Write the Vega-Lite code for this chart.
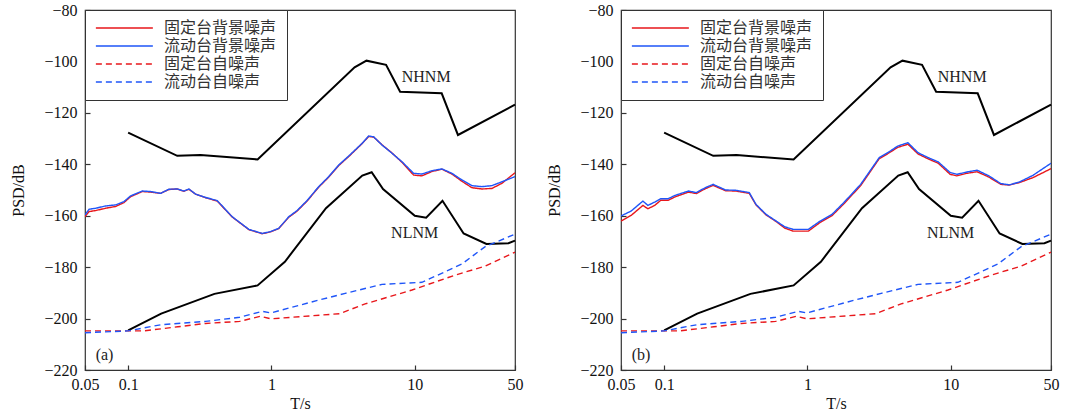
{
  "$schema": "https://vega.github.io/schema/vega-lite/v6.json",
  "padding": {"left": 10, "top": 1, "right": 0, "bottom": 0},
  "spacing": 22,
  "datasets": {
    "noise": [
      {"panel": "a", "series": "固定台背景噪声", "T": 0.05, "psd": -160.4},
      {"panel": "a", "series": "固定台背景噪声", "T": 0.0533, "psd": -158.4},
      {"panel": "a", "series": "固定台背景噪声", "T": 0.0593, "psd": -158.0},
      {"panel": "a", "series": "固定台背景噪声", "T": 0.0696, "psd": -157.1},
      {"panel": "a", "series": "固定台背景噪声", "T": 0.0818, "psd": -156.4},
      {"panel": "a", "series": "固定台背景噪声", "T": 0.0935, "psd": -154.9},
      {"panel": "a", "series": "固定台背景噪声", "T": 0.104, "psd": -152.6},
      {"panel": "a", "series": "固定台背景噪声", "T": 0.1254, "psd": -150.6},
      {"panel": "a", "series": "固定台背景噪声", "T": 0.1434, "psd": -150.8},
      {"panel": "a", "series": "固定台背景噪声", "T": 0.1684, "psd": -151.3},
      {"panel": "a", "series": "固定台背景噪声", "T": 0.1924, "psd": -149.8},
      {"panel": "a", "series": "固定台背景噪声", "T": 0.22, "psd": -149.6},
      {"panel": "a", "series": "固定台背景噪声", "T": 0.2448, "psd": -150.5},
      {"panel": "a", "series": "固定台背景噪声", "T": 0.2653, "psd": -149.7},
      {"panel": "a", "series": "固定台背景噪声", "T": 0.2952, "psd": -151.6},
      {"panel": "a", "series": "固定台背景噪声", "T": 0.3467, "psd": -153.0},
      {"panel": "a", "series": "固定台背景噪声", "T": 0.418, "psd": -154.3},
      {"panel": "a", "series": "固定台背景噪声", "T": 0.532, "psd": -160.5},
      {"panel": "a", "series": "固定台背景噪声", "T": 0.695, "psd": -165.4},
      {"panel": "a", "series": "固定台背景噪声", "T": 0.861, "psd": -167.0},
      {"panel": "a", "series": "固定台背景噪声", "T": 0.983, "psd": -166.3},
      {"panel": "a", "series": "固定台背景噪声", "T": 1.124, "psd": -165.0},
      {"panel": "a", "series": "固定台背景噪声", "T": 1.32, "psd": -160.6},
      {"panel": "a", "series": "固定台背景噪声", "T": 1.509, "psd": -158.2},
      {"panel": "a", "series": "固定台背景噪声", "T": 1.772, "psd": -154.3},
      {"panel": "a", "series": "固定台背景噪声", "T": 2.136, "psd": -148.9},
      {"panel": "a", "series": "固定台背景噪声", "T": 2.508, "psd": -145.0},
      {"panel": "a", "series": "固定台背景噪声", "T": 2.944, "psd": -140.5},
      {"panel": "a", "series": "固定台背景噪声", "T": 3.457, "psd": -137.0},
      {"panel": "a", "series": "固定台背景噪声", "T": 4.28, "psd": -132.0},
      {"panel": "a", "series": "固定台背景噪声", "T": 4.76, "psd": -129.2},
      {"panel": "a", "series": "固定台背景噪声", "T": 5.16, "psd": -129.4},
      {"panel": "a", "series": "固定台背景噪声", "T": 5.9, "psd": -132.4},
      {"panel": "a", "series": "固定台背景噪声", "T": 6.93, "psd": -135.6},
      {"panel": "a", "series": "固定台背景噪声", "T": 8.13, "psd": -139.2},
      {"panel": "a", "series": "固定台背景噪声", "T": 9.81, "psd": -144.2},
      {"panel": "a", "series": "固定台背景噪声", "T": 11.21, "psd": -144.5},
      {"panel": "a", "series": "固定台背景噪声", "T": 13.17, "psd": -142.8},
      {"panel": "a", "series": "固定台背景噪声", "T": 15.46, "psd": -141.9},
      {"panel": "a", "series": "固定台背景噪声", "T": 18.14, "psd": -143.8},
      {"panel": "a", "series": "固定台背景噪声", "T": 21.3, "psd": -146.6},
      {"panel": "a", "series": "固定台背景噪声", "T": 25.0, "psd": -149.1},
      {"panel": "a", "series": "固定台背景噪声", "T": 29.4, "psd": -149.6},
      {"panel": "a", "series": "固定台背景噪声", "T": 34.5, "psd": -149.4},
      {"panel": "a", "series": "固定台背景噪声", "T": 40.5, "psd": -147.4},
      {"panel": "a", "series": "固定台背景噪声", "T": 50, "psd": -143.3},

      {"panel": "a", "series": "流动台背景噪声", "T": 0.05, "psd": -159.7},
      {"panel": "a", "series": "流动台背景噪声", "T": 0.0533, "psd": -157.5},
      {"panel": "a", "series": "流动台背景噪声", "T": 0.0593, "psd": -157.1},
      {"panel": "a", "series": "流动台背景噪声", "T": 0.0696, "psd": -156.2},
      {"panel": "a", "series": "流动台背景噪声", "T": 0.0818, "psd": -155.8},
      {"panel": "a", "series": "流动台背景噪声", "T": 0.0935, "psd": -154.5},
      {"panel": "a", "series": "流动台背景噪声", "T": 0.104, "psd": -152.3},
      {"panel": "a", "series": "流动台背景噪声", "T": 0.1254, "psd": -150.4},
      {"panel": "a", "series": "流动台背景噪声", "T": 0.1434, "psd": -150.6},
      {"panel": "a", "series": "流动台背景噪声", "T": 0.1684, "psd": -151.3},
      {"panel": "a", "series": "流动台背景噪声", "T": 0.1924, "psd": -149.7},
      {"panel": "a", "series": "流动台背景噪声", "T": 0.22, "psd": -149.6},
      {"panel": "a", "series": "流动台背景噪声", "T": 0.2448, "psd": -150.4},
      {"panel": "a", "series": "流动台背景噪声", "T": 0.2653, "psd": -149.6},
      {"panel": "a", "series": "流动台背景噪声", "T": 0.2952, "psd": -151.6},
      {"panel": "a", "series": "流动台背景噪声", "T": 0.3467, "psd": -152.9},
      {"panel": "a", "series": "流动台背景噪声", "T": 0.418, "psd": -154.1},
      {"panel": "a", "series": "流动台背景噪声", "T": 0.532, "psd": -160.4},
      {"panel": "a", "series": "流动台背景噪声", "T": 0.695, "psd": -165.3},
      {"panel": "a", "series": "流动台背景噪声", "T": 0.861, "psd": -166.9},
      {"panel": "a", "series": "流动台背景噪声", "T": 0.983, "psd": -166.2},
      {"panel": "a", "series": "流动台背景噪声", "T": 1.124, "psd": -164.9},
      {"panel": "a", "series": "流动台背景噪声", "T": 1.32, "psd": -160.4},
      {"panel": "a", "series": "流动台背景噪声", "T": 1.509, "psd": -158.0},
      {"panel": "a", "series": "流动台背景噪声", "T": 1.772, "psd": -154.1},
      {"panel": "a", "series": "流动台背景噪声", "T": 2.136, "psd": -148.7},
      {"panel": "a", "series": "流动台背景噪声", "T": 2.508, "psd": -144.8},
      {"panel": "a", "series": "流动台背景噪声", "T": 2.944, "psd": -140.3},
      {"panel": "a", "series": "流动台背景噪声", "T": 3.457, "psd": -136.8},
      {"panel": "a", "series": "流动台背景噪声", "T": 4.28, "psd": -131.9},
      {"panel": "a", "series": "流动台背景噪声", "T": 4.76, "psd": -129.0},
      {"panel": "a", "series": "流动台背景噪声", "T": 5.16, "psd": -129.3},
      {"panel": "a", "series": "流动台背景噪声", "T": 5.9, "psd": -132.5},
      {"panel": "a", "series": "流动台背景噪声", "T": 6.93, "psd": -135.7},
      {"panel": "a", "series": "流动台背景噪声", "T": 8.13, "psd": -139.0},
      {"panel": "a", "series": "流动台背景噪声", "T": 9.81, "psd": -143.5},
      {"panel": "a", "series": "流动台背景噪声", "T": 11.21, "psd": -143.8},
      {"panel": "a", "series": "流动台背景噪声", "T": 13.17, "psd": -142.5},
      {"panel": "a", "series": "流动台背景噪声", "T": 15.46, "psd": -141.8},
      {"panel": "a", "series": "流动台背景噪声", "T": 18.14, "psd": -143.5},
      {"panel": "a", "series": "流动台背景噪声", "T": 21.3, "psd": -146.1},
      {"panel": "a", "series": "流动台背景噪声", "T": 25.0, "psd": -148.3},
      {"panel": "a", "series": "流动台背景噪声", "T": 29.4, "psd": -148.7},
      {"panel": "a", "series": "流动台背景噪声", "T": 34.5, "psd": -148.3},
      {"panel": "a", "series": "流动台背景噪声", "T": 40.5, "psd": -146.8},
      {"panel": "a", "series": "流动台背景噪声", "T": 50, "psd": -144.8},

      {"panel": "b", "series": "固定台背景噪声", "T": 0.05, "psd": -162.1},
      {"panel": "b", "series": "固定台背景噪声", "T": 0.0588, "psd": -159.9},
      {"panel": "b", "series": "固定台背景噪声", "T": 0.0711, "psd": -156.0},
      {"panel": "b", "series": "固定台背景噪声", "T": 0.077, "psd": -157.3},
      {"panel": "b", "series": "固定台背景噪声", "T": 0.0859, "psd": -156.0},
      {"panel": "b", "series": "固定台背景噪声", "T": 0.0947, "psd": -154.0},
      {"panel": "b", "series": "固定台背景噪声", "T": 0.1067, "psd": -154.0},
      {"panel": "b", "series": "固定台背景噪声", "T": 0.119, "psd": -152.7},
      {"panel": "b", "series": "固定台背景噪声", "T": 0.1478, "psd": -150.8},
      {"panel": "b", "series": "固定台背景噪声", "T": 0.1674, "psd": -151.4},
      {"panel": "b", "series": "固定台背景噪声", "T": 0.1938, "psd": -149.5},
      {"panel": "b", "series": "固定台背景噪声", "T": 0.2196, "psd": -148.2},
      {"panel": "b", "series": "固定台背景噪声", "T": 0.2684, "psd": -150.3},
      {"panel": "b", "series": "固定台背景噪声", "T": 0.3157, "psd": -150.4},
      {"panel": "b", "series": "固定台背景噪声", "T": 0.3925, "psd": -151.3},
      {"panel": "b", "series": "固定台背景噪声", "T": 0.4374, "psd": -155.8},
      {"panel": "b", "series": "固定台背景噪声", "T": 0.5144, "psd": -159.7},
      {"panel": "b", "series": "固定台背景噪声", "T": 0.6055, "psd": -162.3},
      {"panel": "b", "series": "固定台背景噪声", "T": 0.6934, "psd": -164.8},
      {"panel": "b", "series": "固定台背景噪声", "T": 0.794, "psd": -166.0},
      {"panel": "b", "series": "固定台背景噪声", "T": 1.014, "psd": -166.0},
      {"panel": "b", "series": "固定台背景噪声", "T": 1.225, "psd": -162.6},
      {"panel": "b", "series": "固定台背景噪声", "T": 1.482, "psd": -160.0},
      {"panel": "b", "series": "固定台背景噪声", "T": 1.792, "psd": -155.4},
      {"panel": "b", "series": "固定台背景噪声", "T": 2.35, "psd": -148.3},
      {"panel": "b", "series": "固定台背景噪声", "T": 3.167, "psd": -137.8},
      {"panel": "b", "series": "固定台背景噪声", "T": 3.626, "psd": -135.9},
      {"panel": "b", "series": "固定台背景噪声", "T": 4.267, "psd": -133.4},
      {"panel": "b", "series": "固定台背景噪声", "T": 5.02, "psd": -132.2},
      {"panel": "b", "series": "固定台背景噪声", "T": 5.91, "psd": -136.0},
      {"panel": "b", "series": "固定台背景噪声", "T": 6.95, "psd": -137.9},
      {"panel": "b", "series": "固定台背景噪声", "T": 8.18, "psd": -139.6},
      {"panel": "b", "series": "固定台背景噪声", "T": 9.89, "psd": -143.9},
      {"panel": "b", "series": "固定台背景噪声", "T": 11.02, "psd": -144.5},
      {"panel": "b", "series": "固定台背景噪声", "T": 12.98, "psd": -143.5},
      {"panel": "b", "series": "固定台背景噪声", "T": 15.26, "psd": -142.9},
      {"panel": "b", "series": "固定台背景噪声", "T": 18.45, "psd": -145.0},
      {"panel": "b", "series": "固定台背景噪声", "T": 22.3, "psd": -147.8},
      {"panel": "b", "series": "固定台背景噪声", "T": 25.6, "psd": -148.1},
      {"panel": "b", "series": "固定台背景噪声", "T": 30.1, "psd": -147.1},
      {"panel": "b", "series": "固定台背景噪声", "T": 37.4, "psd": -145.2},
      {"panel": "b", "series": "固定台背景噪声", "T": 50, "psd": -141.7},

      {"panel": "b", "series": "流动台背景噪声", "T": 0.05, "psd": -160.1},
      {"panel": "b", "series": "流动台背景噪声", "T": 0.0588, "psd": -158.2},
      {"panel": "b", "series": "流动台背景噪声", "T": 0.0711, "psd": -154.3},
      {"panel": "b", "series": "流动台背景噪声", "T": 0.077, "psd": -156.0},
      {"panel": "b", "series": "流动台背景噪声", "T": 0.0859, "psd": -154.7},
      {"panel": "b", "series": "流动台背景噪声", "T": 0.0947, "psd": -153.4},
      {"panel": "b", "series": "流动台背景噪声", "T": 0.1067, "psd": -153.4},
      {"panel": "b", "series": "流动台背景噪声", "T": 0.119, "psd": -152.1},
      {"panel": "b", "series": "流动台背景噪声", "T": 0.1478, "psd": -150.4},
      {"panel": "b", "series": "流动台背景噪声", "T": 0.1674, "psd": -151.0},
      {"panel": "b", "series": "流动台背景噪声", "T": 0.1938, "psd": -149.1},
      {"panel": "b", "series": "流动台背景噪声", "T": 0.2196, "psd": -147.8},
      {"panel": "b", "series": "流动台背景噪声", "T": 0.2684, "psd": -150.0},
      {"panel": "b", "series": "流动台背景噪声", "T": 0.3157, "psd": -150.1},
      {"panel": "b", "series": "流动台背景噪声", "T": 0.3925, "psd": -151.0},
      {"panel": "b", "series": "流动台背景噪声", "T": 0.4374, "psd": -155.6},
      {"panel": "b", "series": "流动台背景噪声", "T": 0.5144, "psd": -159.5},
      {"panel": "b", "series": "流动台背景噪声", "T": 0.6055, "psd": -162.1},
      {"panel": "b", "series": "流动台背景噪声", "T": 0.6934, "psd": -164.3},
      {"panel": "b", "series": "流动台背景噪声", "T": 0.794, "psd": -165.3},
      {"panel": "b", "series": "流动台背景噪声", "T": 1.014, "psd": -165.3},
      {"panel": "b", "series": "流动台背景噪声", "T": 1.225, "psd": -162.1},
      {"panel": "b", "series": "流动台背景噪声", "T": 1.482, "psd": -159.5},
      {"panel": "b", "series": "流动台背景噪声", "T": 1.792, "psd": -154.9},
      {"panel": "b", "series": "流动台背景噪声", "T": 2.35, "psd": -147.8},
      {"panel": "b", "series": "流动台背景噪声", "T": 3.167, "psd": -137.4},
      {"panel": "b", "series": "流动台背景噪声", "T": 3.626, "psd": -135.5},
      {"panel": "b", "series": "流动台背景噪声", "T": 4.267, "psd": -132.9},
      {"panel": "b", "series": "流动台背景噪声", "T": 5.02, "psd": -131.6},
      {"panel": "b", "series": "流动台背景噪声", "T": 5.91, "psd": -135.5},
      {"panel": "b", "series": "流动台背景噪声", "T": 6.95, "psd": -137.4},
      {"panel": "b", "series": "流动台背景噪声", "T": 8.18, "psd": -139.1},
      {"panel": "b", "series": "流动台背景噪声", "T": 9.89, "psd": -143.2},
      {"panel": "b", "series": "流动台背景噪声", "T": 11.02, "psd": -143.9},
      {"panel": "b", "series": "流动台背景噪声", "T": 12.98, "psd": -143.0},
      {"panel": "b", "series": "流动台背景噪声", "T": 15.26, "psd": -142.3},
      {"panel": "b", "series": "流动台背景噪声", "T": 18.45, "psd": -144.5},
      {"panel": "b", "series": "流动台背景噪声", "T": 22.3, "psd": -147.5},
      {"panel": "b", "series": "流动台背景噪声", "T": 25.6, "psd": -148.0},
      {"panel": "b", "series": "流动台背景噪声", "T": 30.1, "psd": -146.9},
      {"panel": "b", "series": "流动台背景噪声", "T": 37.4, "psd": -144.3},
      {"panel": "b", "series": "流动台背景噪声", "T": 50, "psd": -139.6},

      {"panel": "ab", "series": "固定台自噪声", "T": 0.05, "psd": -204.8},
      {"panel": "ab", "series": "固定台自噪声", "T": 0.128, "psd": -204.8},
      {"panel": "ab", "series": "固定台自噪声", "T": 0.222, "psd": -203.2},
      {"panel": "ab", "series": "固定台自噪声", "T": 0.346, "psd": -201.9},
      {"panel": "ab", "series": "固定台自噪声", "T": 0.6, "psd": -201.1},
      {"panel": "ab", "series": "固定台自噪声", "T": 0.837, "psd": -199.1},
      {"panel": "ab", "series": "固定台自噪声", "T": 0.99, "psd": -200.1},
      {"panel": "ab", "series": "固定台自噪声", "T": 2.99, "psd": -198.1},
      {"panel": "ab", "series": "固定台自噪声", "T": 4.5, "psd": -194.3},
      {"panel": "ab", "series": "固定台自噪声", "T": 9.55, "psd": -188.9},
      {"panel": "ab", "series": "固定台自噪声", "T": 19.1, "psd": -183.1},
      {"panel": "ab", "series": "固定台自噪声", "T": 31.0, "psd": -179.6},
      {"panel": "ab", "series": "固定台自噪声", "T": 50, "psd": -174.2},

      {"panel": "ab", "series": "流动台自噪声", "T": 0.05, "psd": -205.5},
      {"panel": "ab", "series": "流动台自噪声", "T": 0.1, "psd": -204.8},
      {"panel": "ab", "series": "流动台自噪声", "T": 0.169, "psd": -202.4},
      {"panel": "ab", "series": "流动台自噪声", "T": 0.346, "psd": -201.1},
      {"panel": "ab", "series": "流动台自噪声", "T": 0.6, "psd": -199.5},
      {"panel": "ab", "series": "流动台自噪声", "T": 0.861, "psd": -197.2},
      {"panel": "ab", "series": "流动台自噪声", "T": 0.99, "psd": -197.8},
      {"panel": "ab", "series": "流动台自噪声", "T": 2.14, "psd": -192.8},
      {"panel": "ab", "series": "流动台自噪声", "T": 3.27, "psd": -190.2},
      {"panel": "ab", "series": "流动台自噪声", "T": 5.9, "psd": -186.7},
      {"panel": "ab", "series": "流动台自噪声", "T": 11.2, "psd": -185.9},
      {"panel": "ab", "series": "流动台自噪声", "T": 21.3, "psd": -178.8},
      {"panel": "ab", "series": "流动台自噪声", "T": 31.0, "psd": -172.0},
      {"panel": "ab", "series": "流动台自噪声", "T": 50, "psd": -167.2}
    ],
    "model": [
      {"model": "NHNM", "T": 0.1, "psd": -127.7},
      {"model": "NHNM", "T": 0.22, "psd": -136.7},
      {"model": "NHNM", "T": 0.32, "psd": -136.4},
      {"model": "NHNM", "T": 0.8, "psd": -138.1},
      {"model": "NHNM", "T": 3.8, "psd": -102.3},
      {"model": "NHNM", "T": 4.6, "psd": -99.7},
      {"model": "NHNM", "T": 6.3, "psd": -101.3},
      {"model": "NHNM", "T": 7.9, "psd": -111.8},
      {"model": "NHNM", "T": 15.4, "psd": -112.4},
      {"model": "NHNM", "T": 20.0, "psd": -128.6},
      {"model": "NHNM", "T": 50, "psd": -116.8},
      {"model": "NLNM", "T": 0.1, "psd": -204.6},
      {"model": "NLNM", "T": 0.17, "psd": -198.1},
      {"model": "NLNM", "T": 0.4, "psd": -190.4},
      {"model": "NLNM", "T": 0.8, "psd": -187.1},
      {"model": "NLNM", "T": 1.24, "psd": -177.9},
      {"model": "NLNM", "T": 2.4, "psd": -157.1},
      {"model": "NLNM", "T": 4.3, "psd": -144.4},
      {"model": "NLNM", "T": 5.0, "psd": -143.1},
      {"model": "NLNM", "T": 6.0, "psd": -149.6},
      {"model": "NLNM", "T": 10.0, "psd": -160.0},
      {"model": "NLNM", "T": 12.0, "psd": -160.8},
      {"model": "NLNM", "T": 15.6, "psd": -154.2},
      {"model": "NLNM", "T": 21.9, "psd": -166.9},
      {"model": "NLNM", "T": 31.6, "psd": -171.0},
      {"model": "NLNM", "T": 45.0, "psd": -170.7},
      {"model": "NLNM", "T": 50, "psd": -169.7}
    ],
    "notes": [
      {"panel": "ab", "label": "NHNM", "T": 12.0, "psd": -105.9},
      {"panel": "ab", "label": "NLNM", "T": 9.97, "psd": -166.9},
      {"panel": "a", "label": "(a)", "T": 0.0684, "psd": -214.2},
      {"panel": "b", "label": "(b)", "T": 0.069, "psd": -214.2}
    ]
  },
  "config": {
    "font": "Times New Roman, Liberation Serif, serif",
    "view": {"stroke": "#333", "strokeWidth": 1.2},
    "axis": {
      "grid": false,
      "domain": false,
      "labelFont": "Times New Roman, Liberation Serif, serif",
      "labelFontSize": 16,
      "labelColor": "#111",
      "titleFont": "Times New Roman, Liberation Serif, serif",
      "titleFontSize": 16,
      "titleFontWeight": "normal",
      "titleColor": "#111",
      "tickSize": -5,
      "tickColor": "#333",
      "tickWidth": 1.2,
      "labelFlush": false,
      "labelOverlap": false,
      "labelPadding": 13
    },
    "legend": {
      "orient": "top-left",
      "offset": 0,
      "padding": 10,
      "strokeColor": "#333",
      "fillColor": "white",
      "labelFont": "Noto Sans CJK SC",
      "labelFontSize": 16,
      "labelColor": "#333",
      "labelOffset": 53,
      "rowPadding": 2,
      "symbolType": "M-1,0H7",
      "symbolSize": 203,
      "symbolStrokeWidth": 1.5,
      "cornerRadius": 0
    }
  },
  "resolve": {"legend": {"color": "independent", "strokeDash": "independent"}},
  "hconcat": [
    {
      "width": 430,
      "height": 360,
      "encoding": {
        "x": {"field": "T", "type": "quantitative", "scale": {"type": "log", "domain": [0.05, 50], "nice": false}, "axis": {"title": "T/s", "values": [0.05, 0.1, 1, 10, 50], "format": "~g", "labelPadding": 11, "titlePadding": 3}},
        "y": {"field": "psd", "type": "quantitative", "scale": {"domain": [-220, -80], "nice": false, "zero": false}, "axis": {"title": "PSD/dB", "values": [-220, -200, -180, -160, -140, -120, -100, -80], "format": "d", "titlePadding": 17}}
      },
      "layer": [
        {
          "data": {"name": "model"},
          "mark": {"type": "line", "color": "#000", "strokeWidth": 2},
          "encoding": {"detail": {"field": "model"}}
        },
        {
          "data": {"name": "noise"},
          "transform": [{"filter": "datum.panel === 'a' || datum.panel === 'ab'"}],
          "mark": {"type": "line", "strokeWidth": 1.4, "clip": true},
          "encoding": {
            "color": {"field": "series", "type": "nominal", "scale": {"domain": ["固定台背景噪声", "流动台背景噪声", "固定台自噪声", "流动台自噪声"], "range": ["#e8171b", "#1f55f8", "#e8171b", "#1f55f8"]}, "legend": {"title": null}},
            "strokeDash": {"field": "series", "type": "nominal", "scale": {"domain": ["固定台背景噪声", "流动台背景噪声", "固定台自噪声", "流动台自噪声"], "range": [[1, 0], [1, 0], [6, 4], [6, 4]]}, "legend": {"title": null}}
          }
        },
        {
          "data": {"name": "notes"},
          "transform": [{"filter": "datum.panel === 'a' || datum.panel === 'ab'"}],
          "mark": {"type": "text", "font": "Times New Roman, Liberation Serif, serif", "fontSize": 16, "color": "#222"},
          "encoding": {"text": {"field": "label"}}
        }
      ]
    },
    {
      "width": 430,
      "height": 360,
      "encoding": {
        "x": {"field": "T", "type": "quantitative", "scale": {"type": "log", "domain": [0.05, 50], "nice": false}, "axis": {"title": "T/s", "values": [0.05, 0.1, 1, 10, 50], "format": "~g", "labelPadding": 11, "titlePadding": 3}},
        "y": {"field": "psd", "type": "quantitative", "scale": {"domain": [-220, -80], "nice": false, "zero": false}, "axis": {"title": "PSD/dB", "values": [-220, -200, -180, -160, -140, -120, -100, -80], "format": "d", "titlePadding": 17}}
      },
      "layer": [
        {
          "data": {"name": "model"},
          "mark": {"type": "line", "color": "#000", "strokeWidth": 2},
          "encoding": {"detail": {"field": "model"}}
        },
        {
          "data": {"name": "noise"},
          "transform": [{"filter": "datum.panel === 'b' || datum.panel === 'ab'"}],
          "mark": {"type": "line", "strokeWidth": 1.4, "clip": true},
          "encoding": {
            "color": {"field": "series", "type": "nominal", "scale": {"domain": ["固定台背景噪声", "流动台背景噪声", "固定台自噪声", "流动台自噪声"], "range": ["#e8171b", "#1f55f8", "#e8171b", "#1f55f8"]}, "legend": {"title": null}},
            "strokeDash": {"field": "series", "type": "nominal", "scale": {"domain": ["固定台背景噪声", "流动台背景噪声", "固定台自噪声", "流动台自噪声"], "range": [[1, 0], [1, 0], [6, 4], [6, 4]]}, "legend": {"title": null}}
          }
        },
        {
          "data": {"name": "notes"},
          "transform": [{"filter": "datum.panel === 'b' || datum.panel === 'ab'"}],
          "mark": {"type": "text", "font": "Times New Roman, Liberation Serif, serif", "fontSize": 16, "color": "#222"},
          "encoding": {"text": {"field": "label"}}
        }
      ]
    }
  ]
}
